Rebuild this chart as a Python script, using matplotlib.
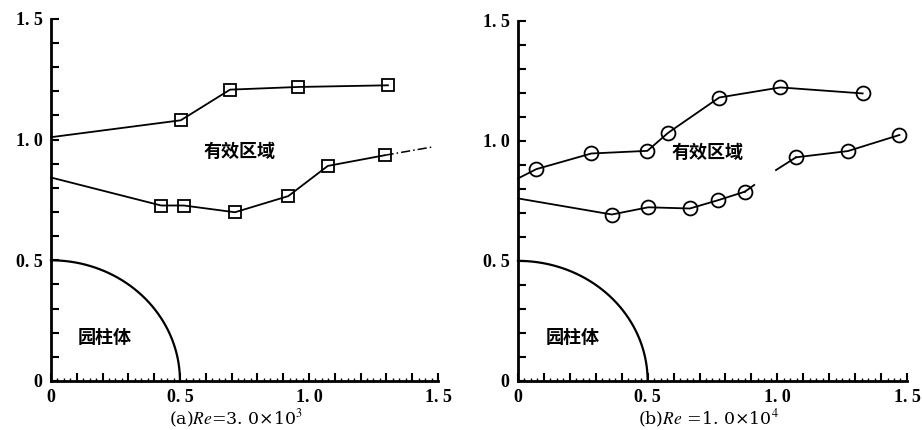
import numpy as np
import matplotlib
matplotlib.use('Agg')
import matplotlib.pyplot as plt
from matplotlib.ticker import MultipleLocator, FuncFormatter

plt.rcParams['font.family'] = ['Liberation Serif', 'DejaVu Serif']
plt.rcParams['mathtext.fontset'] = 'stix'

# (a) Re = 3.0e3, square markers
a_up_x = [0.0, 0.503, 0.694, 0.956, 1.306]
a_up_y = [1.01, 1.08, 1.207, 1.218, 1.225]
a_lo_x = [0.0, 0.427, 0.515, 0.713, 0.920, 1.073, 1.293]
a_lo_y = [0.843, 0.727, 0.727, 0.699, 0.766, 0.891, 0.935]
a_tail_x = [1.293, 1.481]
a_tail_y = [0.935, 0.970]

# (b) Re = 1.0e4, circle markers
b_up_x = [0.0, 0.071, 0.283, 0.499, 0.579, 0.776, 1.012, 1.329]
b_up_y = [0.843, 0.882, 0.947, 0.958, 1.033, 1.180, 1.222, 1.197]
b_lo1_x = [0.0, 0.362, 0.502, 0.663, 0.773, 0.875]
b_lo1_y = [0.760, 0.693, 0.723, 0.718, 0.753, 0.788]
b_lo1_end_x = [0.875, 0.911]
b_lo1_end_y = [0.788, 0.816]
b_lo2_x = [1.072, 1.272, 1.471]
b_lo2_y = [0.931, 0.957, 1.024]
b_lo2_start_x = [0.995, 1.072]
b_lo2_start_y = [0.878, 0.931]

tick_labels = {0.0: '0', 0.5: '0. 5', 1.0: '1. 0', 1.5: '1. 5'}


def fmt(v, pos):
    for k, s in tick_labels.items():
        if abs(v - k) < 1e-6:
            return s
    return ''


def setup(ax):
    ax.set_xlim(0, 1.5)
    ax.set_ylim(0, 1.5)
    for s in ['top', 'right']:
        ax.spines[s].set_visible(False)
    for s in ['left', 'bottom']:
        ax.spines[s].set_linewidth(2.0)
    ax.xaxis.set_major_locator(MultipleLocator(0.1))
    ax.yaxis.set_major_locator(MultipleLocator(0.1))
    ax.xaxis.set_minor_locator(MultipleLocator(0.025))
    ax.xaxis.set_major_formatter(FuncFormatter(fmt))
    ax.yaxis.set_major_formatter(FuncFormatter(fmt))
    ax.tick_params(which='major', direction='in', length=6, width=1.5,
                   labelsize=13, pad=6)
    ax.tick_params(which='minor', direction='in', length=2.5, width=1.0)
    for lab in ax.get_xticklabels() + ax.get_yticklabels():
        lab.set_fontweight('bold')
    # cylinder quarter circle
    th = np.linspace(0, np.pi / 2, 200)
    ax.plot(0.5 * np.cos(th), 0.5 * np.sin(th), color='black', lw=1.6,
            clip_on=False)
    ax.text(0.73, 0.95, '有效区域', family=['Noto Sans CJK SC', 'DejaVu Sans'],
            fontsize=13, fontweight='bold', ha='center', va='center')
    ax.text(0.21, 0.18, '园柱体', family=['Noto Sans CJK SC', 'DejaVu Sans'],
            fontsize=13, fontweight='bold', ha='center', va='center')


fig = plt.figure(figsize=(9.22, 4.30), dpi=100)
ax1 = fig.add_axes([0.0553, 0.114, 0.4197, 0.842])
ax2 = fig.add_axes([0.5618, 0.114, 0.4219, 0.838])

for ax in (ax1, ax2):
    setup(ax)

mk = dict(color='black', lw=1.3, markersize=8, markerfacecolor='none',
          markeredgewidth=1.3, clip_on=False)

ax1.plot(a_up_x[1:], a_up_y[1:], marker='s', linestyle='none', **mk)
ax1.plot(a_up_x, a_up_y, linestyle='-', color='black', lw=1.3, clip_on=False)
ax1.plot(a_lo_x[1:], a_lo_y[1:], marker='s', linestyle='none', **mk)
ax1.plot(a_lo_x, a_lo_y, linestyle='-', color='black', lw=1.3, clip_on=False)
ax1.plot(a_tail_x, a_tail_y, linestyle=(0, (6, 2, 1, 2)), color='black',
         lw=1.1, clip_on=False)

mk['markersize'] = 10
ax2.plot(b_up_x[1:], b_up_y[1:], marker='o', linestyle='none', **mk)
ax2.plot(b_up_x, b_up_y, linestyle='-', color='black', lw=1.3, clip_on=False)
ax2.plot(b_lo1_x[1:], b_lo1_y[1:], marker='o', linestyle='none', **mk)
ax2.plot(b_lo1_x, b_lo1_y, linestyle='-', color='black', lw=1.3, clip_on=False)
ax2.plot(b_lo1_end_x, b_lo1_end_y, linestyle='-', color='black', lw=1.3)
ax2.plot(b_lo2_x, b_lo2_y, marker='o', linestyle='-', **mk)
ax2.plot(b_lo2_start_x, b_lo2_start_y, linestyle='-', color='black', lw=1.3)

lab_font = dict(fontsize=12.5, family=['DejaVu Serif'])
ax1.set_xlabel(r'(a)$Re$=3. 0×10$^3$', **lab_font)
ax2.set_xlabel(r'(b)$Re$ =1. 0×10$^4$', **lab_font)
ax1.xaxis.set_label_coords(0.478, -0.075)
ax2.xaxis.set_label_coords(0.49, -0.075)

fig.savefig('out.png', dpi=100)
